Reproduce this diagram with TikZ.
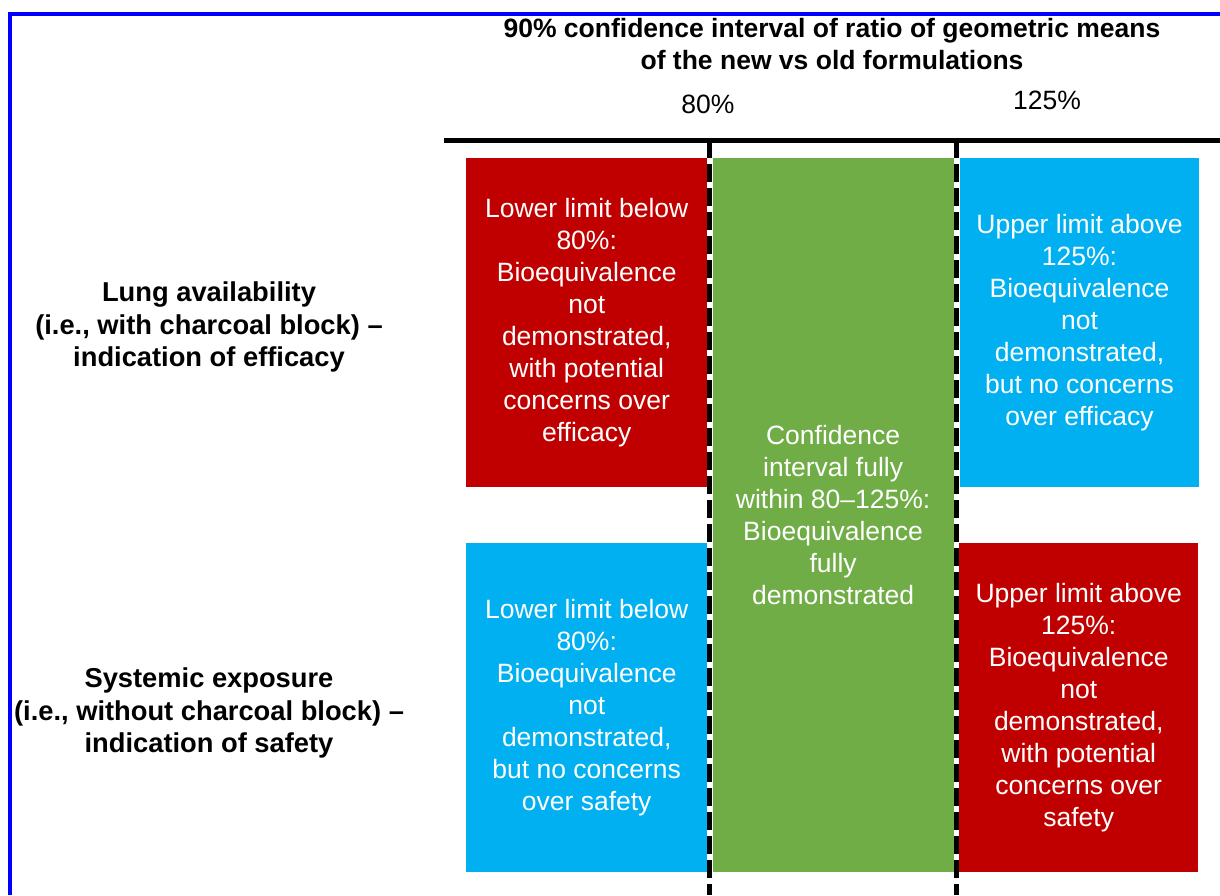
\documentclass[tikz,border=0pt]{standalone}
\usepackage{fontspec}
\setmainfont{Liberation Sans}
\usetikzlibrary{positioning}
\definecolor{cellred}{HTML}{C00000}
\definecolor{cellblue}{HTML}{00B0F0}
\definecolor{cellgreen}{HTML}{70AD47}
\begin{document}
\begin{tikzpicture}[x=1pt,y=-1pt,
txt/.style={
% plain text:
align=center,
inner sep=0pt,
font=\fontsize{26.5}{32}\selectfont
},
head/.style={txt,font=\fontsize{26.5}{32}\selectfont\bfseries},
rowhead/.style={txt,font=\fontsize{27.3}{32.5}\selectfont\bfseries},
cell/.style={
txt,
text=white,
anchor=north west,
minimum width=241pt,
minimum height=329pt
},
redcell/.style={cell,fill=cellred},
bluecell/.style={cell,fill=cellblue},
limit/.style={line width=5pt,dash pattern=on 18pt off 6pt},
frame/.style={draw=blue,line width=3.5pt}
]
\useasboundingbox (0,0) rectangle (1220,895);
% frame and axis
\coordinate (fbl) at (10,895);
\coordinate (ftl) at (10,14);
\coordinate (ftr) at (1220,14);
\draw[frame] (fbl) -- (ftl) -- (ftr);
\coordinate (axisl) at (444,140);
\coordinate (axisr) at (1220,140);
\draw[line width=5pt] (axisl) -- (axisr);
\coordinate (lo top) at (709.5,140);
\coordinate (lo bot) at (709.5,895);
\coordinate (hi top) at (956,140);
\coordinate (hi bot) at (956,895);
\draw[limit] (lo top) -- (lo bot) (hi top) -- (hi bot);

% headings:
\node (title) [head] at (832,44) {90\% confidence interval of ratio of geometric means\\of the new vs old formulations};
\node (p80) [txt] at (708,104) {80\%};
\node (p125) [txt] at (1047,100) {125\%};
\node (lung) [rowhead] at (209,327) {Lung availability\\(i.e., with charcoal block) –\\indication of efficacy};
\node (sys) [rowhead] at (209,713) {Systemic exposure\\(i.e., without charcoal block) –\\indication of safety};

% cells:
\node (effLow) [redcell] at (466,158) {Lower limit below\\80\%:\\Bioequivalence\\not\\demonstrated,\\with potential\\concerns over\\efficacy};
\node (mid) [cell,fill=cellgreen,minimum height=714pt,right=5pt of effLow.north east,anchor=north west] {Confidence\\interval fully\\within 80–125\%:\\Bioequivalence\\fully\\demonstrated};
\node (effHigh) [bluecell,minimum width=239pt,right=6pt of mid.north east,anchor=north west] {Upper limit above\\125\%:\\Bioequivalence\\not\\demonstrated,\\but no concerns\\over efficacy};
\node (safeLow) [bluecell] at (466,543) {Lower limit below\\80\%:\\Bioequivalence\\not\\demonstrated,\\but no concerns\\over safety};
\node (safeHigh) [redcell,minimum width=239pt,anchor=north west] at (959,543) {Upper limit above\\125\%:\\Bioequivalence\\not\\demonstrated,\\with potential\\concerns over\\safety};
\end{tikzpicture}
\end{document}
